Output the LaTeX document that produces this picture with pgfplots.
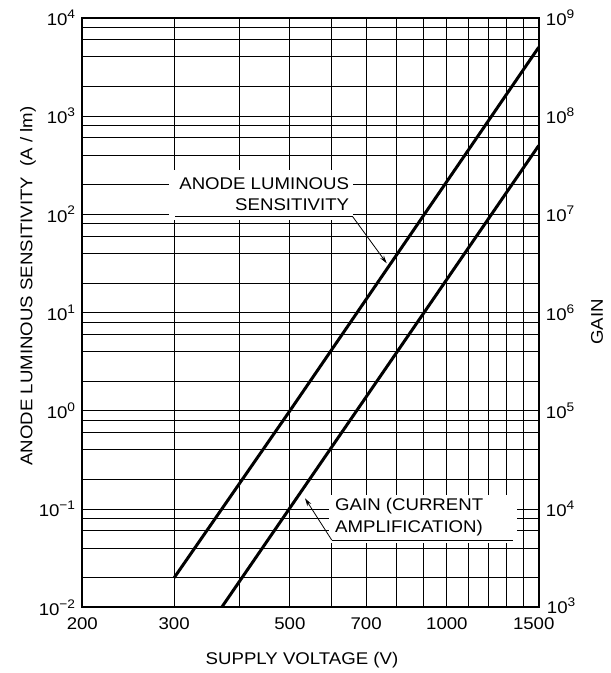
\documentclass[border=0pt]{standalone}
\usepackage{fontspec}
\setmainfont{Liberation Sans}[FakeStretch=1.1]
\usepackage{pgfplots}
\pgfplotsset{compat=1.18}
\usetikzlibrary{arrows.meta}

\newcommand\fs{\fontsize{17}{20}\selectfont}
\newcommand\tp[1]{10\raisebox{0.42em}{\fontsize{12.5}{13}\selectfont #1}}
\newcommand\px[2]{({#1-82.3},{607.3-#2})}

\pgfplotstableread{
V S
300 0.02
500 1.0
1500 5000
}\sens
\pgfplotstableread{
V S
370 0.01
1500 500
}\gain

\begin{document}
\begin{tikzpicture}[x=1bp,y=1bp]
\path[use as bounding box] (-82.3,-65.7) rectangle (528.7,607.3);
\begin{axis}[
  scale only axis, width=456.4bp, height=589.6bp,
  at={(0,0)}, anchor=south west,
  xmode=log, ymode=log,
  xmin=200, xmax=1500, ymin=1e-2, ymax=1e4,
  log basis x=10,
  xtick={200,300,500,700,1000},
  xticklabels={200,300,500,700,1000},
  extra x ticks={1500},
  extra x tick labels={1500},
  extra x tick style={xticklabel style={xshift=-5bp}},
  minor xtick={400,600,800,900,1100,1200,1300,1400},
  ytick={1e-2,1e-1,1,10,100,1000,10000},
  yticklabels={\tp{−2},\tp{−1},\tp{0},\tp{1},\tp{2},\tp{3},\tp{4}},
  minor ytick={2e-2,4e-2,6e-2,8e-2,2e-1,4e-1,6e-1,8e-1,2,4,6,8,20,40,60,80,200,400,600,800,2000,4000,6000,8000},
  grid=both,
  major grid style={black, line width=0.8bp},
  minor grid style={black, line width=0.8bp},
  major tick length=0pt, minor tick length=0pt,
  axis line style={black, line width=1.8bp},
  ticklabel style={font=\fs, inner sep=0pt},
  xticklabel style={anchor=north, yshift=-10bp},
  yticklabel style={anchor=east, xshift=-7bp},
  /pgf/number format/assume math mode=true,
  clip=true,
]
\addplot[black, line width=3bp] table[x=V, y=S] {\sens};
\addplot[black, line width=3bp] table[x=V, y=S] {\gain};
\end{axis}
\begin{axis}[
  scale only axis, width=456.4bp, height=589.6bp,
  at={(0,0)}, anchor=south west,
  xmode=log, ymode=log,
  xmin=200, xmax=1500, ymin=1e3, ymax=1e9,
  axis x line=none,
  axis y line*=right,
  axis line style={black, line width=1.8bp},
  ytick={1e4,1e5,1e6,1e7,1e8,1e9},
  yticklabels={\tp{4},\tp{5},\tp{6},\tp{7},\tp{8},\tp{9}},
  extra y ticks={1e3},
  extra y tick labels={\tp{3}},
  extra y tick style={yticklabel style={yshift=2bp, xshift=1bp}},
  minor ytick={},
  major tick length=0pt, minor tick length=0pt,
  ticklabel style={font=\fs, inner sep=0pt},
  yticklabel style={anchor=west, xshift=7bp},
  /pgf/number format/assume math mode=true,
]
\addplot[draw=none] coordinates {(300,1e5)};
\end{axis}
% annotation: anode luminous sensitivity
\fill[white] \px{169}{170} rectangle \px{353}{220};
\node[font=\fs, anchor=base east, inner sep=0pt] at \px{349.3}{189.3} {ANODE LUMINOUS};
\node[font=\fs, anchor=base east, inner sep=0pt] at \px{349.3}{211} {SENSITIVITY};
\draw[black, line width=0.8bp] \px{175}{216.7} -- \px{352.7}{216.7};
\draw[black, line width=0.8bp, -{Stealth[length=8bp,width=4.5bp]}] \px{352.7}{216.7} -- \px{386.7}{263.3};
% annotation: gain
\fill[white] \px{329}{495} rectangle \px{517}{543};
\node[font=\fs, anchor=base west, inner sep=0pt] at \px{335}{511} {GAIN (CURRENT};
\node[font=\fs, anchor=base west, inner sep=0pt] at \px{335}{532.7} {AMPLIFICATION)};
\draw[black, line width=0.8bp] \px{331.7}{540} -- \px{513.3}{540};
\draw[black, line width=0.8bp, -{Stealth[length=8bp,width=4.5bp]}] \px{331.7}{540} -- \px{305}{498.3};
% axis labels
\node[font=\fs, rotate=90] at \px{28}{286} {ANODE LUMINOUS SENSITIVITY\ \ (A / lm)};
\node[font=\fs, rotate=90] at \px{597}{322} {GAIN};
\node[font=\fs] at \px{302}{660} {SUPPLY VOLTAGE (V)};
\end{tikzpicture}
\end{document}
